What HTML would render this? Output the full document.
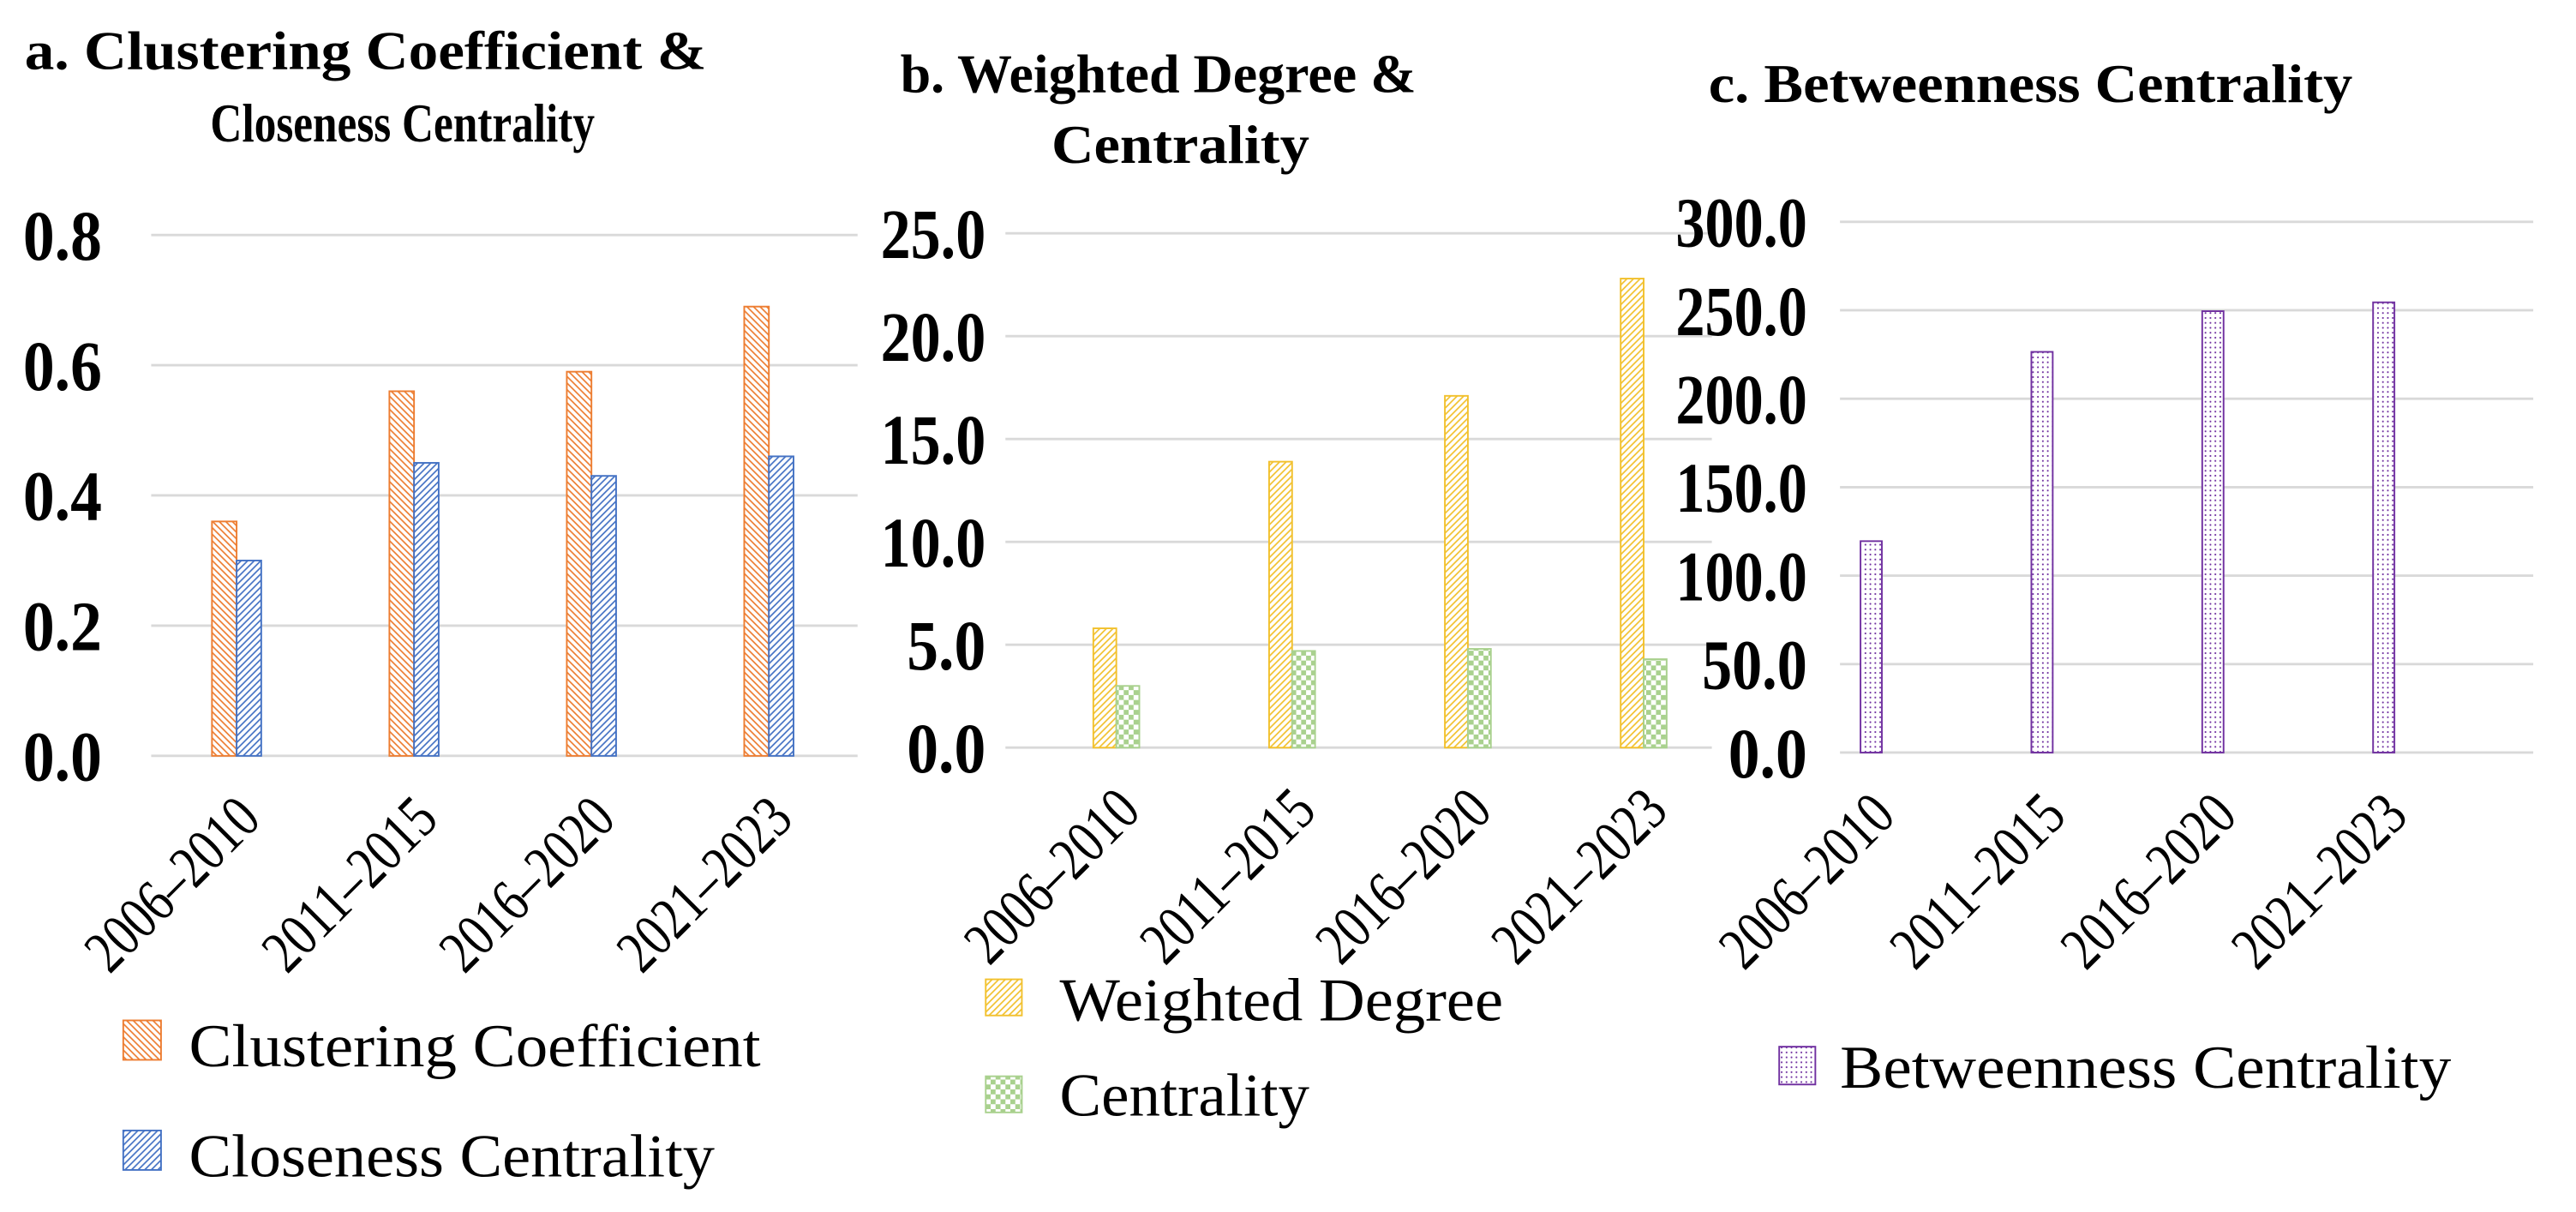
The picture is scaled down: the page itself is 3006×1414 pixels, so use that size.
<!DOCTYPE html>
<html><head><meta charset="utf-8"><style>
html,body{margin:0;padding:0;background:#fff;}
svg{display:block;}
text{font-family:"Liberation Serif",serif;fill:#000;}
</style></head><body>
<svg id="chart" width="3006" height="1414" viewBox="0 0 1568 737.6" xmlns="http://www.w3.org/2000/svg">
<defs>
<pattern id="pOrange" patternUnits="userSpaceOnUse" width="4" height="4"><rect width="4" height="4" fill="#fff"/><path d="M-1,-1 L5,5 M-1,3 L1,5 M3,-1 L5,1" stroke="#ed7d31" stroke-width="0.9"/></pattern>
<pattern id="pBlue" patternUnits="userSpaceOnUse" width="4" height="4"><rect width="4" height="4" fill="#fff"/><path d="M-1,5 L5,-1 M-1,1 L1,-1 M3,5 L5,3" stroke="#4472c4" stroke-width="0.9"/></pattern>
<pattern id="pYellow" patternUnits="userSpaceOnUse" width="4" height="4"><rect width="4" height="4" fill="#fff"/><path d="M-1,5 L5,-1 M-1,1 L1,-1 M3,5 L5,3" stroke="#f2c12e" stroke-width="0.9"/></pattern>
<pattern id="pGreen" patternUnits="userSpaceOnUse" width="6" height="6"><rect width="6" height="6" fill="#fff"/><rect width="3" height="3" fill="#a9d18e"/><rect x="3" y="3" width="3" height="3" fill="#a9d18e"/></pattern>
<pattern id="pPurple" patternUnits="userSpaceOnUse" width="3" height="3"><rect width="3" height="3" fill="#fff"/><circle cx="1.5" cy="1.5" r="0.55" fill="#7030a0"/></pattern>
</defs>

<g>
<text x="15" y="42" font-size="33" font-weight="bold" textLength="415" lengthAdjust="spacingAndGlyphs">a. Clustering Coefficient &amp;</text>
<text x="128" y="86" font-size="33" font-weight="bold" textLength="234" lengthAdjust="spacingAndGlyphs">Closeness Centrality</text>
<g id="ga"></g>
<rect x="75" y="621" width="23" height="24" fill="url(#pOrange)" stroke="#ed7d31" stroke-width="1"/>
<text x="115" y="649" font-size="37" textLength="348" lengthAdjust="spacingAndGlyphs">Clustering Coefficient</text>
<rect x="75" y="688" width="23" height="24" fill="url(#pBlue)" stroke="#4472c4" stroke-width="1"/>
<text x="115" y="716" font-size="37" textLength="320" lengthAdjust="spacingAndGlyphs">Closeness Centrality</text>
</g>

<g>
<text x="548" y="56" font-size="33" font-weight="bold" textLength="314" lengthAdjust="spacingAndGlyphs">b. Weighted Degree &amp;</text>
<text x="640" y="99" font-size="33" font-weight="bold" textLength="157" lengthAdjust="spacingAndGlyphs">Centrality</text>
<g id="gb"></g>
<rect x="600" y="596" width="22" height="22" fill="url(#pYellow)" stroke="#f2c12e" stroke-width="1"/>
<text x="645" y="621" font-size="37" textLength="270" lengthAdjust="spacingAndGlyphs">Weighted Degree</text>
<rect x="600" y="655" width="22" height="22" fill="url(#pGreen)" stroke="#a9d18e" stroke-width="1"/>
<text x="645" y="679" font-size="37" textLength="152" lengthAdjust="spacingAndGlyphs">Centrality</text>
</g>

<g>
<text x="1040" y="62" font-size="33" font-weight="bold" textLength="392" lengthAdjust="spacingAndGlyphs">c. Betweenness Centrality</text>
<g id="gc"></g>
<rect x="1083" y="637" width="22" height="23" fill="url(#pPurple)" stroke="#7030a0" stroke-width="1"/>
<text x="1120" y="662" font-size="37" textLength="372" lengthAdjust="spacingAndGlyphs">Betweenness Centrality</text>
</g>
</svg>
<script>
const categories = ["2006–2010","2011–2015","2016–2020","2021–2023"];
const clusteringValues = [0.36, 0.56, 0.59, 0.69];
const closenessValues = [0.30, 0.45, 0.43, 0.46];
const weightedDegreeValues = [5.8, 13.9, 17.1, 22.8];
const centralityValues = [3.0, 4.7, 4.8, 4.3];
const betweennessValues = [119.5, 226.5, 249.5, 254.5];
const ticksA = [0, 0.2, 0.4, 0.6, 0.8];
const tickLabelsA = ["0.0","0.2","0.4","0.6","0.8"];
const ticksB = [0, 5, 10, 15, 20, 25];
const tickLabelsB = ["0.0","5.0","10.0","15.0","20.0","25.0"];
const ticksC = [0, 50, 100, 150, 200, 250, 300];
const tickLabelsC = ["0.0","50.0","100.0","150.0","200.0","250.0","300.0"];

const NS = "http://www.w3.org/2000/svg";
function mk(tag, attrs, parent){
  const e = document.createElementNS(NS, tag);
  for (const k in attrs) e.setAttribute(k, attrs[k]);
  parent.appendChild(e);
  return e;
}
function panel(gid, cfg){
  const g = document.getElementById(gid);
  const y = v => cfg.y0 - (v - 0) / cfg.max * (cfg.y0 - cfg.yTop);
  const band = (cfg.x1 - cfg.x0) / categories.length;
  const cx = i => cfg.x0 + (i + 0.5) * band;
  cfg.ticks.forEach((t, i) => {
    const gl = mk("line", {x1: cfg.gx0, x2: cfg.gx1, y1: y(t), y2: y(t), stroke: "#d9d9d9", "stroke-width": 1.5}, g);
    
    
    const lab = cfg.tickLabels[i];
    const tl = mk("text", {x: cfg.tickX, y: y(t) + 15, "font-size": 43, "font-weight": "bold", "text-anchor": "end", textLength: lab.length * 16, lengthAdjust: "spacingAndGlyphs"}, g);
    tl.textContent = lab;
    
    
  });
  const n = cfg.series.length;
  categories.forEach((c, i) => {
    cfg.series.forEach((s, j) => {
      const left = cx(i) - n * cfg.bw / 2 + j * cfg.bw;
      const v = s.values[i];
      const r = mk("rect", {x: left, y: y(v), width: cfg.bw, height: y(0) - y(v), fill: s.fill, stroke: s.stroke, "stroke-width": 1}, g);
      
      
    });
    const lx = cx(i) + 16, ly = cfg.y0 + 40;
    const t = mk("text", {x: lx, y: ly, "font-size": 37, "text-anchor": "end", textLength: 132, lengthAdjust: "spacingAndGlyphs", transform: `rotate(-45 ${lx} ${ly})`}, g);
    t.textContent = c;
    
    
  });
}
panel("ga", {y0: 460, yTop: 143, max: 0.8, x0: 90, x1: 522, gx0: 92, gx1: 522, tickX: 62, bw: 15,
  ticks: ticksA, tickLabels: tickLabelsA,
  series: [{values: clusteringValues, fill: "url(#pOrange)", stroke: "#ed7d31"},
           {values: closenessValues, fill: "url(#pBlue)", stroke: "#4472c4"}]});
panel("gb", {y0: 455, yTop: 142, max: 25, x0: 626, x1: 1054, gx0: 612, gx1: 1042, tickX: 600, bw: 14,
  ticks: ticksB, tickLabels: tickLabelsB,
  series: [{values: weightedDegreeValues, fill: "url(#pYellow)", stroke: "#f2c12e"},
           {values: centralityValues, fill: "url(#pGreen)", stroke: "#a9d18e"}]});
panel("gc", {y0: 458, yTop: 135, max: 300, x0: 1087, x1: 1503, gx0: 1120, gx1: 1542, tickX: 1100, bw: 13,
  ticks: ticksC, tickLabels: tickLabelsC,
  series: [{values: betweennessValues, fill: "url(#pPurple)", stroke: "#7030a0"}]});
</script>
</body></html>
